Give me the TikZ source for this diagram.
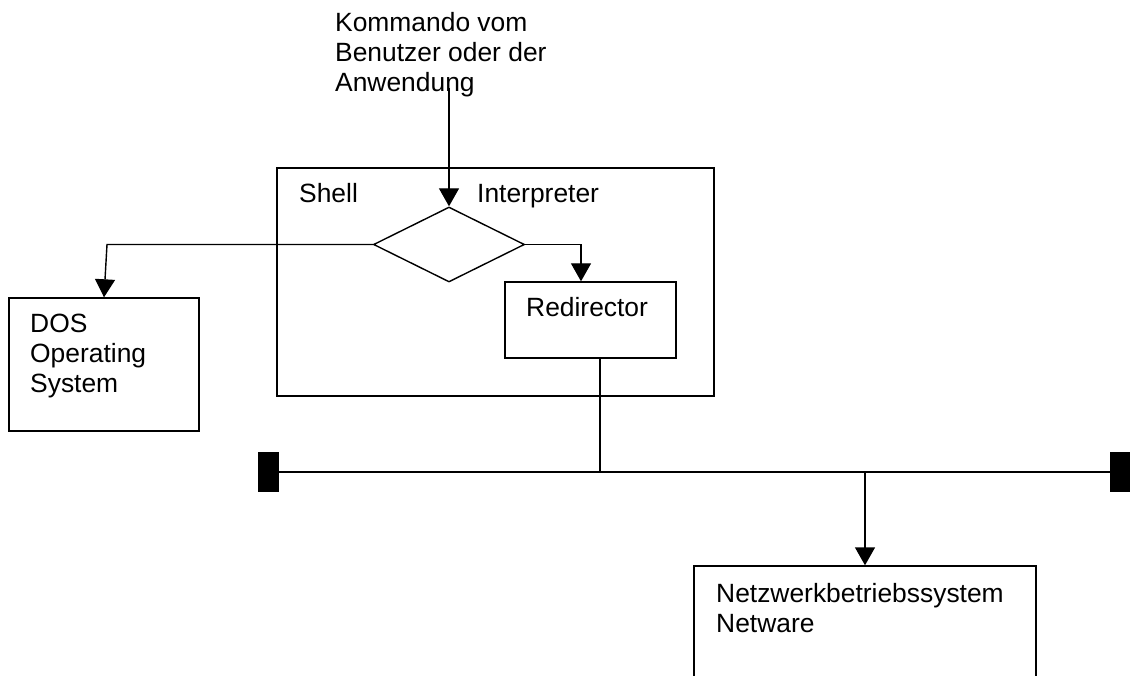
\documentclass[tikz,border=0pt]{standalone}
\usepackage{fontspec}
\setmainfont{Liberation Sans}
\usetikzlibrary{shapes.geometric,arrows.meta,calc}
\tikzset{
  box/.style={draw=black, line width=1.4pt, rectangle, inner sep=0pt},
  lbl/.style={anchor=base west, inner sep=0pt, align=left, font=\fontsize{26.4}{30}\selectfont},
  conn/.style={draw=black, line width=1.4pt},
  arr/.style={conn, -{Triangle[length=18pt,width=20pt]}},
  busend/.style={fill=black, draw=none, rectangle, inner sep=0pt, minimum width=21pt, minimum height=40pt}
}
\begin{document}
\begin{tikzpicture}[x=1pt,y=-1pt]
\useasboundingbox (0,0) rectangle (1130,676);
\clip (0,0) rectangle (1130,676);
% boxes
\node[box, minimum width=437pt, minimum height=228pt] (shell) at (495.5,282) {};
\node[box, minimum width=171pt, minimum height=76pt] (redir) at (590.5,320) {};
\node[box, minimum width=190pt, minimum height=133pt] (dos) at (104,364.5) {};
\node[box, minimum width=342pt, minimum height=134pt] (net) at (865,633) {};
\node[draw=black, line width=1.4pt, diamond, inner sep=0pt, minimum width=151pt, minimum height=75pt] (dia) at (449,244.5) {};
% texts (multi-line nodes: base anchor is the last line's baseline)
\node[lbl] (cmd) at (335,92) {Kommando vom\\Benutzer oder der\\Anwendung};
\node[lbl] (shelltxt) at (299,203) {Shell};
\node[lbl] (interp) at (477,203) {Interpreter};
\node[lbl] (redirtxt) at (526,317) {Redirector};
\node[lbl] (dostxt) at (30,392) {DOS\\Operating\\System};
\node[lbl] (nettxt) at (716,632) {Netzwerkbetriebssystem\\Netware};
% bus
\node[busend] (busL) at (268.5,472) {};
\node[busend] (busR) at (1120.5,472) {};
\draw[conn] (busL.east) -- (busR.west);
\coordinate (tapR) at (600,472);
\coordinate (tapN) at (865,472);
\coordinate (cmdend) at (449,88);
% connectors
\draw[arr] (cmdend) -- (dia.north);
\draw[arr] (dia.west) -- (107,244.5) -- (dos.north);
\draw[arr] (dia.east) -| ([xshift=-9.5pt]redir.north);
\draw[conn] (redir.south -| tapR) -- (tapR);
\draw[arr] (tapN) -- (net.north);
\end{tikzpicture}
\end{document}
